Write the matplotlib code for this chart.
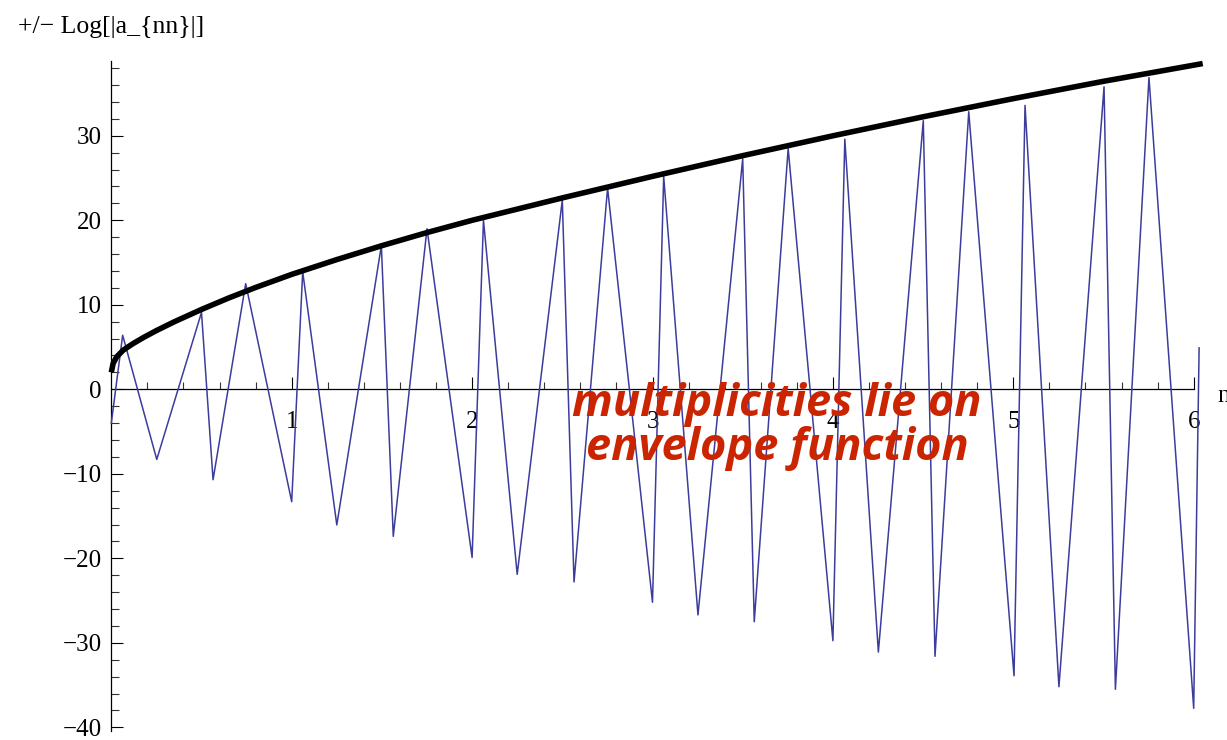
import matplotlib
matplotlib.use("Agg")
import matplotlib.pyplot as plt
from matplotlib.ticker import FixedLocator

# Signed log-magnitude of the coefficients a_nn (zig-zag series)
n_vals = [0.0, 0.063, 0.252, 0.5, 0.564, 0.745, 1.0, 1.061, 1.25, 1.497,
          1.563, 1.75, 2.0, 2.063, 2.25, 2.5, 2.565, 2.751, 3.0, 3.062,
          3.252, 3.5, 3.564, 3.752, 4.0, 4.066, 4.252, 4.501, 4.566, 4.753,
          5.004, 5.065, 5.253, 5.503, 5.566, 5.752, 6.0, 6.03]
log_a = [-4.0, 6.4, -8.3, 9.1, -10.7, 12.5, -13.3, 13.9, -16.05, 17.0,
         -17.4, 19.0, -19.9, 20.0, -21.9, 22.4, -22.8, 23.8, -25.2, 25.2,
         -26.7, 27.3, -27.5, 28.5, -29.75, 29.6, -31.1, 31.8, -31.6, 32.85,
         -33.9, 33.6, -35.2, 35.8, -35.5, 36.9, -37.75, 4.9]

# Envelope function sampled along n
env_n = [0.0, 0.01, 0.03, 0.067, 0.12, 0.18, 0.25, 0.35, 0.5, 0.65, 0.8,
         1.0, 1.25, 1.5, 1.75, 2.0, 2.5, 3.0, 3.5, 4.0, 4.5, 5.0, 5.5, 6.05]
env_v = [2.0, 3.05, 3.85, 4.65, 5.4, 6.15, 6.95, 8.0, 9.45, 10.8, 12.05,
         13.6, 15.35, 17.0, 18.55, 20.0, 22.65, 25.2, 27.65, 30.0, 32.25,
         34.4, 36.45, 38.55]

x_major = [1, 2, 3, 4, 5, 6]
y_major = [-40, -30, -20, -10, 0, 10, 20, 30]

W, H = 1227, 740
fig = plt.figure(figsize=(W / 100, H / 100), dpi=100)

# pixel geometry of the plotting area
xlim = (-0.05, 6.08)
ylim = (-41.0, 40.0)
px_x0, px_per_x = 111.3, 180.4
px_y0, px_per_y = 389.3, 8.45
left = px_x0 + px_per_x * xlim[0]
right = px_x0 + px_per_x * xlim[1]
top = px_y0 - px_per_y * ylim[1]
bottom = px_y0 - px_per_y * ylim[0]
ax = fig.add_axes([left / W, 1 - bottom / H, (right - left) / W, (bottom - top) / H])
ax.set_xlim(*xlim)
ax.set_ylim(*ylim)
ax.patch.set_alpha(0)

serif = ["Liberation Serif", "DejaVu Serif"]

ax.plot(n_vals, log_a, color="#3C3C9C", lw=1.1, zorder=3)
ax.plot(env_n, env_v, color="black", lw=4.0, solid_capstyle="butt",
        solid_joinstyle="round", zorder=4)

# axes through the origin
for s in ("top", "right"):
    ax.spines[s].set_visible(False)
ax.spines["left"].set_position(("data", 0))
ax.spines["bottom"].set_position(("data", 0))
ax.spines["left"].set_bounds(-40.4, 38.8)
ax.spines["bottom"].set_bounds(0, 6)
for s in ("left", "bottom"):
    ax.spines[s].set_linewidth(0.9)

ax.xaxis.set_major_locator(FixedLocator(x_major))
ax.xaxis.set_minor_locator(FixedLocator([i * 0.2 for i in range(1, 30) if i % 5]))
ax.yaxis.set_major_locator(FixedLocator(y_major))
ax.yaxis.set_minor_locator(FixedLocator([v for v in range(-38, 39, 2) if v % 10]))
ax.set_xticklabels([str(v) for v in x_major])
ax.set_yticklabels([str(v).replace("-", "\u2212") for v in y_major])

ax.tick_params(axis="both", which="major", direction="in", length=8.8, width=0.8,
               labelsize=18, color="black")
ax.tick_params(axis="both", which="minor", direction="in", length=5.4, width=0.8,
               color="#333333")
ax.tick_params(axis="x", which="major", pad=15.5)
ax.tick_params(axis="y", which="major", pad=7)
for lab in ax.get_xticklabels() + ax.get_yticklabels():
    lab.set_family(serif)

# axis labels
fig.text(18 / W, 1 - 33 / H, "+/\u2212 Log[|a_{nn}|]", family=serif, fontsize=18.5,
         ha="left", va="baseline")
fig.text(1217 / W, 1 - 402 / H, "n", family=serif, fontsize=18,
         ha="left", va="baseline")

# annotation
ax.text(3.69, -4.4, "multiplicities lie on\nenvelope function",
        color="#CB2400", fontsize=32.5, fontweight="bold", fontstyle="italic",
        family=["Open Sans", "Lato", "DejaVu Sans"], ha="center", va="center",
        linespacing=0.95, zorder=5)

fig.savefig("out.png", dpi=100)
